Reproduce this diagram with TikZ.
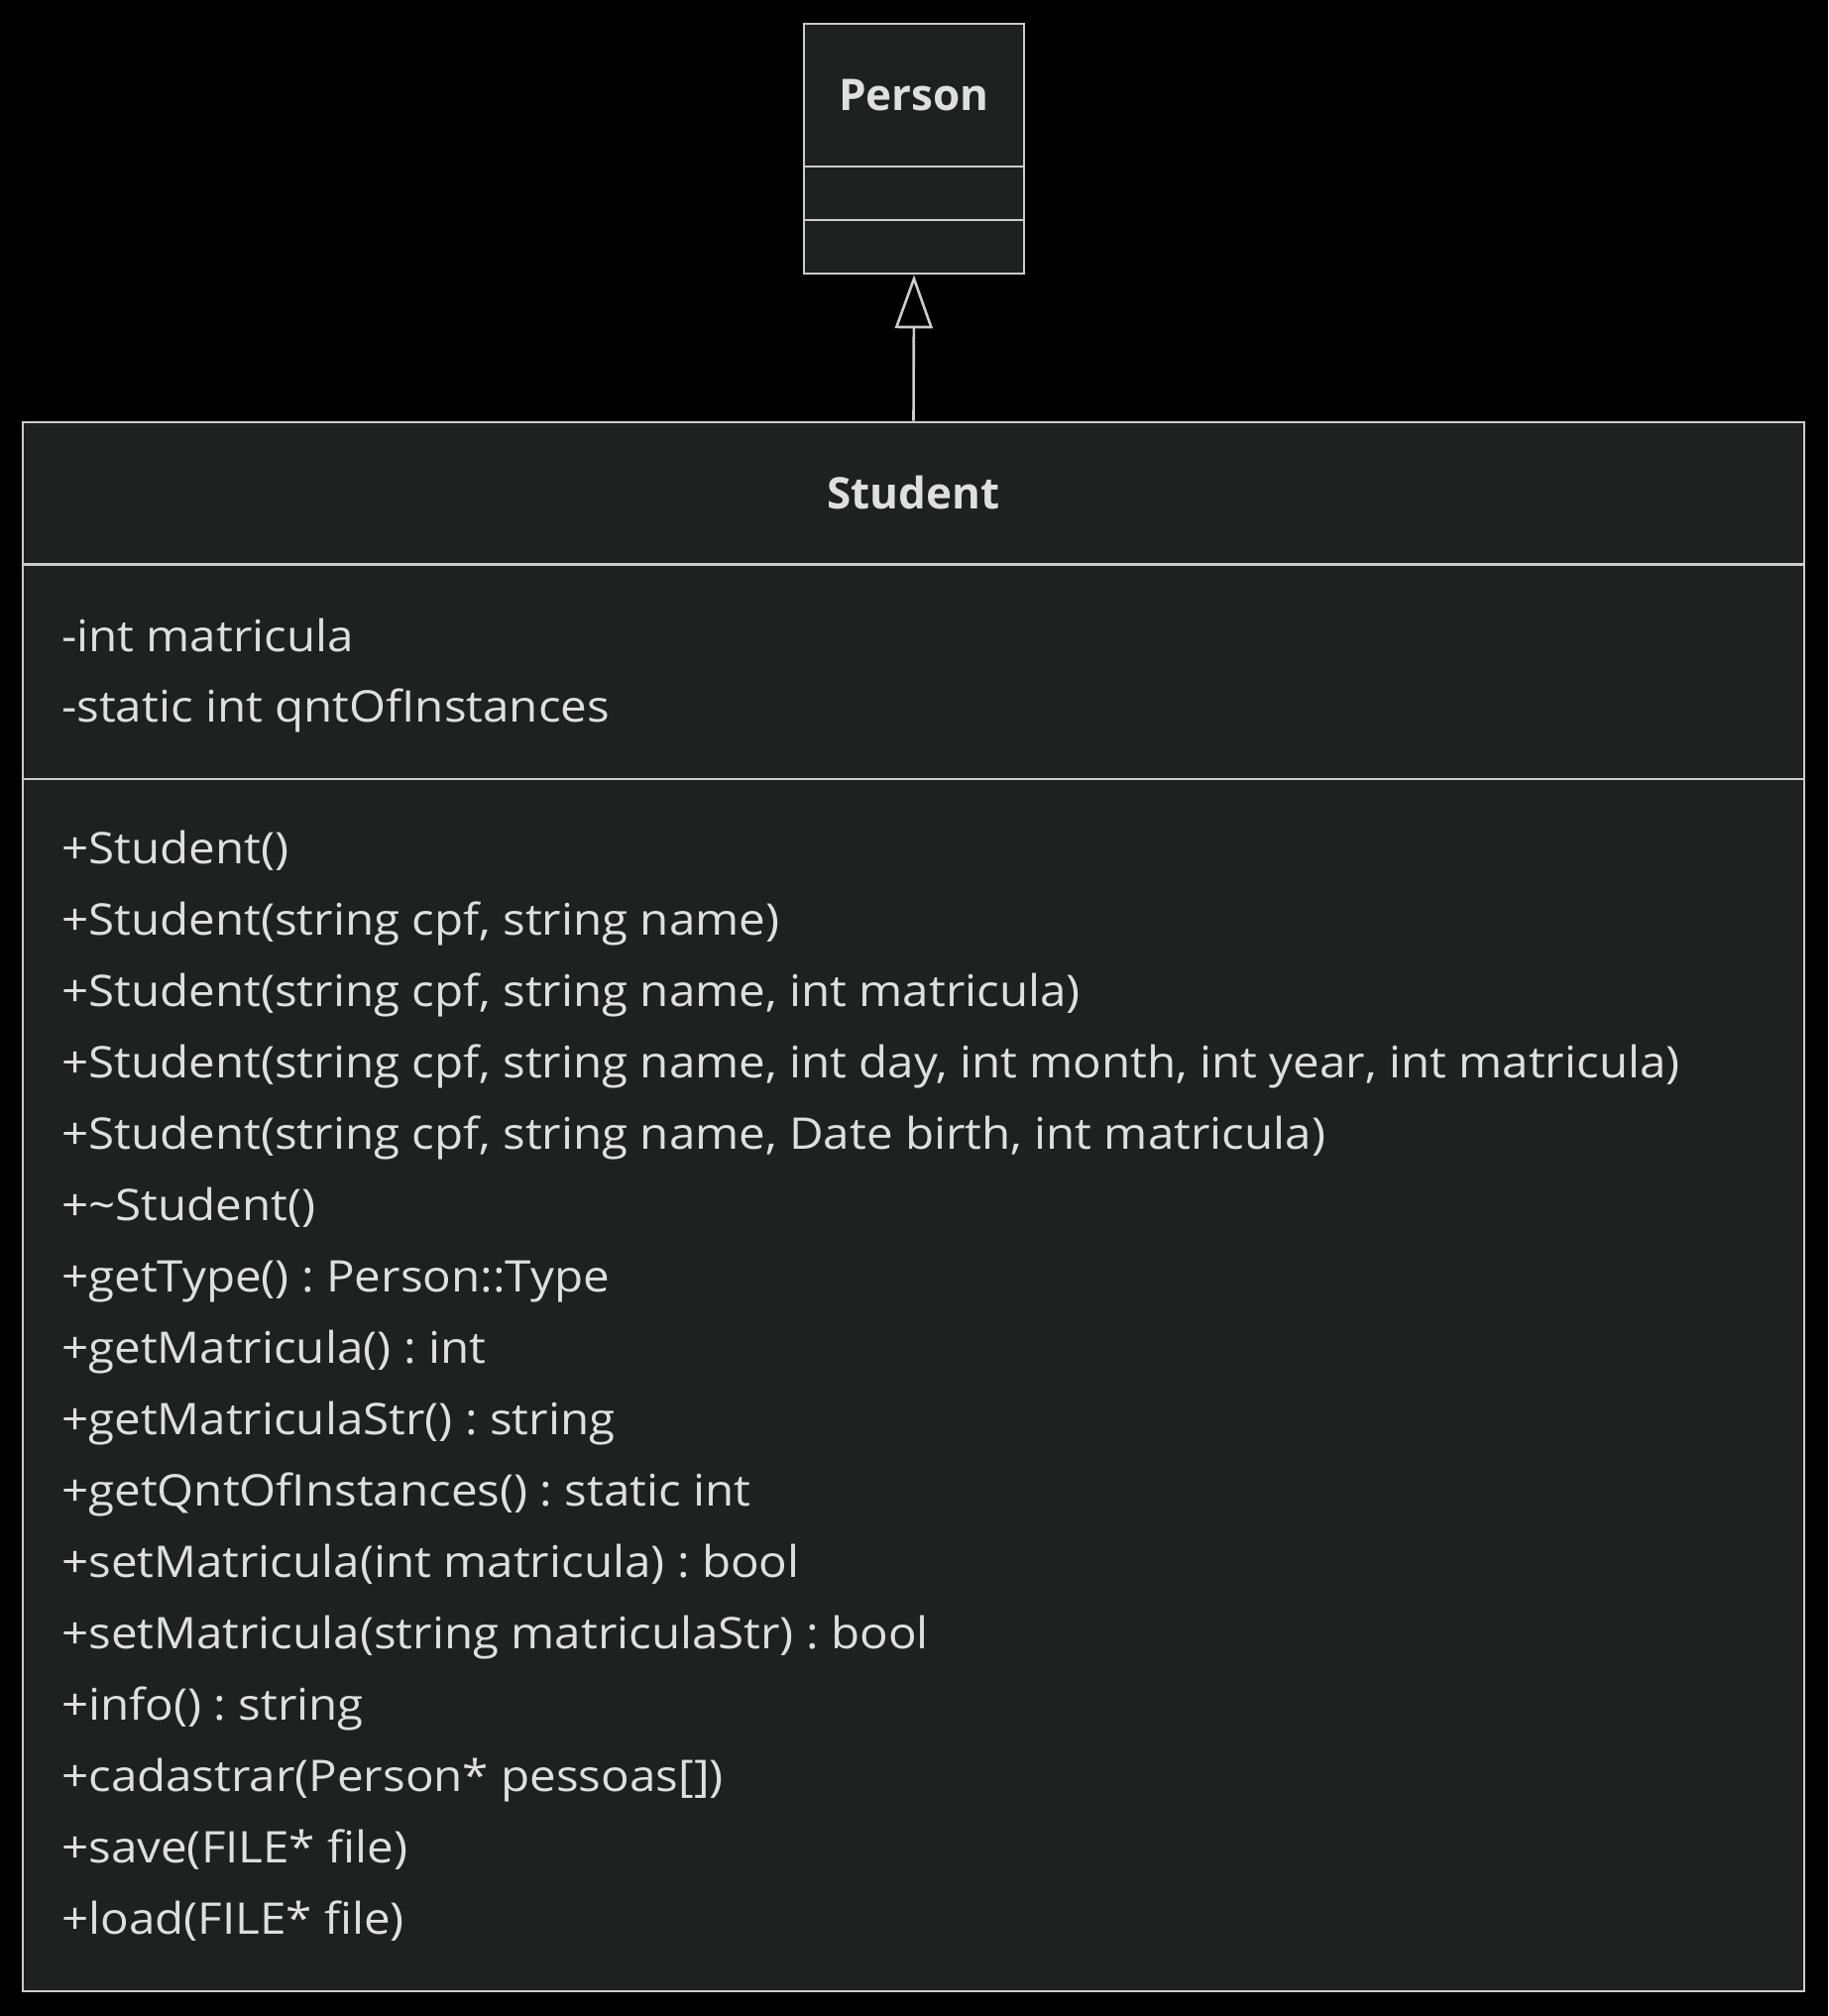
\documentclass[tikz,border=0pt]{standalone}
\usepackage{fontspec}
\setmainfont[Ligatures=NoCommon, FakeStretch=1.08]{Open Sans}
\newfontfamily\titlefont{Open Sans}
\usetikzlibrary{arrows.meta}
\definecolor{umlfill}{HTML}{1F2020}
\definecolor{umlline}{HTML}{CCCCCC}
\definecolor{umltext}{HTML}{E0DFDF}
\tikzset{
  classbox/.style={draw=umlline, fill=umlfill, line width=2.6pt, inner sep=0pt},
  title/.style={anchor=base, text=umltext, font=\titlefont\fontsize{44}{44}\selectfont\bfseries},
  member/.style={anchor=base west, text=umltext, inner sep=0pt, font=\fontsize{44}{44}\selectfont\frenchspacing},
  inherit/.style={draw=umlline, line width=2.6pt, -{Triangle[open, length=54pt, width=38pt]}}
}
\begin{document}
\begin{tikzpicture}[x=1pt, y=-1pt]
  \fill[black] (0,0) rectangle (1844,2034);
  \useasboundingbox (0,0) rectangle (1844,2034);
  % Person class
  \node[classbox, minimum width=222pt, minimum height=252pt] (person) at (922,150) {};
  \node[title] (persontitle) at (922,111) {Person};
  \draw[umlline, line width=2.6pt] (person.west |- 0,168) -- (person.east |- 0,168);
  \draw[umlline, line width=2.6pt] (person.west |- 0,222) -- (person.east |- 0,222);
  % Student class
  \node[classbox, minimum width=1797pt, minimum height=1583pt] (student) at (921.5,1217.5) {};
  \node[title] (studenttitle) at (921.5,513) {Student};
  \draw[umlline, line width=2.6pt] (student.west |- 0,569.5) -- (student.east |- 0,569.5);
  \draw[umlline, line width=2.6pt] (student.west |- 0,786) -- (student.east |- 0,786);
  \node[member] (attr1) at (62,657) {-int matricula};
  \node[member] (attr2) at (62,728) {-static int qntOfInstances};
  \foreach \m [count=\i from 0] in {
      {+Student()},
      {+Student(string cpf, string name)},
      {+Student(string cpf, string name, int matricula)},
      {+Student(string cpf, string name, int day, int month, int year, int matricula)},
      {+Student(string cpf, string name, Date birth, int matricula)},
      {+\textasciitilde Student()},
      {+getType() : Person::Type},
      {+getMatricula() : int},
      {+getMatriculaStr() : string},
      {+getQntOfInstances() : static int},
      {+setMatricula(int matricula) : bool},
      {+setMatricula(string matriculaStr) : bool},
      {+info() : string},
      {+cadastrar(Person* pessoas[])},
      {+save(FILE* file)},
      {+load(FILE* file)}}
    \node[member] (method\i) at (62,871.7+72*\i) {\m};
  % inheritance
  \draw[inherit] (student.north) -- (person.south);
\end{tikzpicture}
\end{document}
